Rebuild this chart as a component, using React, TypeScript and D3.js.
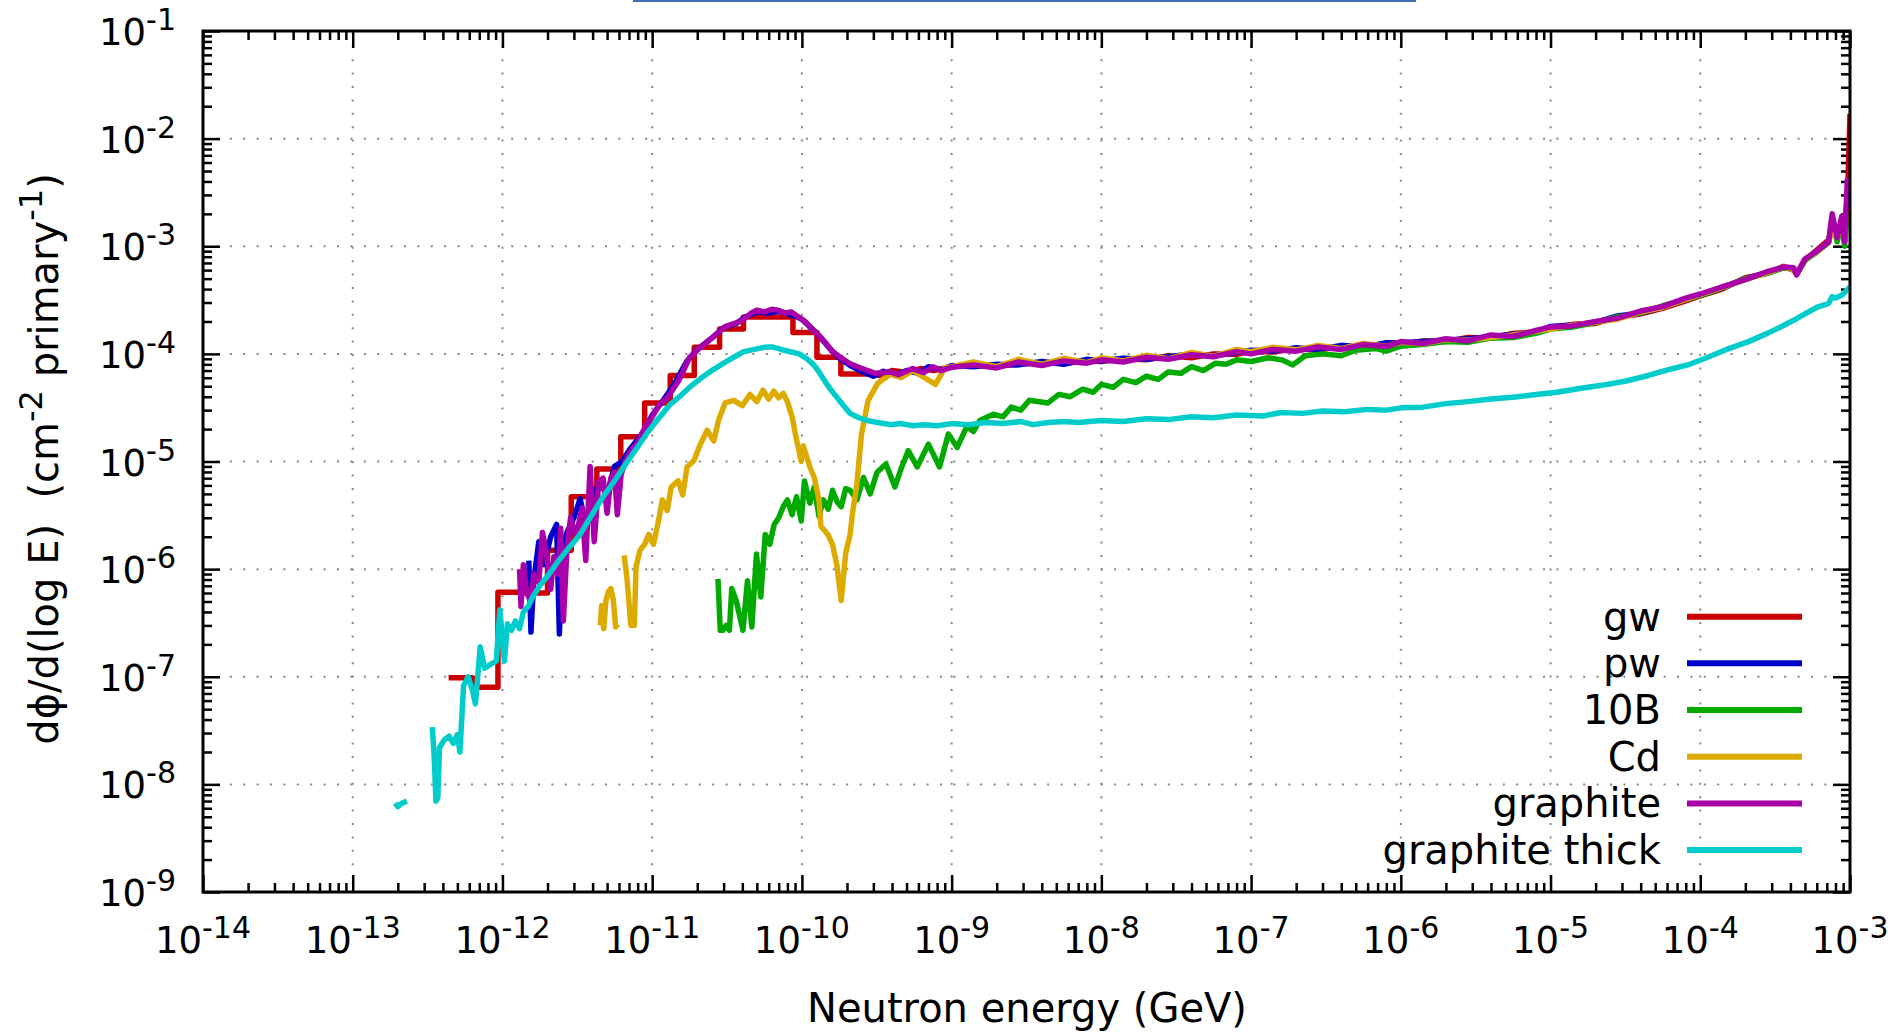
import { useRef, useEffect } from "react";
import * as d3 from "d3";

type Pt = [number, number | null];

// axis decades (GeV on x, flux on y)
const xExponents = [-14, -13, -12, -11, -10, -9, -8, -7, -6, -5, -4, -3];
const yExponents = [-9, -8, -7, -6, -5, -4, -3, -2, -1];

const seriesNames = ["gw", "pw", "10B", "Cd", "graphite", "graphite thick"];
const seriesColors = ["#cc0000", "#0000cc", "#00aa00", "#ddaa00", "#aa00aa", "#00cccc"];

// common binning of the high energy part
const tailEnergy = [
  1.4e-9, 2e-9, 2.8e-9, 4e-9, 5.6e-9, 8e-9,
  1e-8, 1.4e-8, 2e-8, 2.8e-8, 4e-8, 5.6e-8, 8e-8,
  1e-7, 1.4e-7, 2e-7, 2.8e-7, 4e-7, 5.6e-7, 8e-7,
  1e-6, 1.4e-6, 2e-6, 2.8e-6, 4e-6, 5.6e-6, 8e-6,
  1e-5, 1.4e-5, 2e-5, 2.8e-5, 4e-5, 5.6e-5, 8e-5,
  1e-4, 1.4e-4, 2e-4, 2.8e-4, 3.6e-4, 4.2e-4, 4.4e-4, 5e-4, 6e-4, 7.2e-4, 7.6e-4, 8.2e-4, 8.8e-4, 9.2e-4, 9.6e-4, 1e-3,
];

// gw (coarse histogram bins at low energy)
const gwLow: Pt[] = [
  [4.37e-13, 9.8e-8], [6.31e-13, 8.0e-8], [9.33e-13, 6.1e-7], [1.35e-12, 6.0e-7], [2.0e-12, 1.5e-6],
  [2.88e-12, 4.7e-6], [4.27e-12, 8.5e-6], [6.17e-12, 1.7e-5], [8.91e-12, 3.5e-5], [1.32e-11, 6.3e-5],
  [1.91e-11, 1.15e-4], [2.82e-11, 1.7e-4], [4.07e-11, 2.2e-4], [5.89e-11, 2.2e-4], [8.71e-11, 1.58e-4],
  [1.26e-10, 9.3e-5], [1.82e-10, 6.5e-5], [2.69e-10, 6.6e-5], [3.3e-10, 6.3e-5], [4.0e-10, 7.0e-5],
  [5.0e-10, 6.7e-5], [6.2e-10, 7.3e-5], [7.6e-10, 7.0e-5], [1.0e-9, 7.6e-5],
];
const gwTail = [
  8.1e-5, 7.7e-5, 8.0e-5, 8.3e-5, 8.2e-5, 8.6e-5,
  8.5e-5, 9.0e-5, 8.8e-5, 9.6e-5, 9.2e-5, 1.0e-4, 9.9e-5,
  1.06e-4, 1.04e-4, 1.12e-4, 1.08e-4, 1.18e-4, 1.14e-4, 1.24e-4,
  1.22e-4, 1.32e-4, 1.3e-4, 1.42e-4, 1.4e-4, 1.55e-4, 1.6e-4,
  1.72e-4, 1.88e-4, 1.92e-4, 2.2e-4, 2.35e-4, 2.65e-4, 3.1e-4,
  3.45e-4, 4.0e-4, 5.1e-4, 5.6e-4, 6.5e-4, 6.0e-4, 5.5e-4, 7.4e-4, 9.2e-4, 1.15e-3, 1.5e-3, 1.3e-3, 1.6e-3, 1.4e-3, 2.5e-3, 1.7e-2,
];
const gwStepEnd = 2.69e-10;

// pw
const pwLow: Pt[] = [
  [1.5e-12, 1.2e-6], [1.55e-12, 2.6e-7], [1.62e-12, 8e-7], [1.75e-12, 1.8e-6], [1.9e-12, 1.1e-6],
  [2.1e-12, 2.0e-6], [2.3e-12, 2.6e-6], [2.4e-12, 2.5e-7], [2.5e-12, 1.5e-6], [2.7e-12, 2.2e-6],
  [3.0e-12, 3.0e-6], [3.3e-12, 4.5e-6], [3.6e-12, 2.6e-6], [4.0e-12, 5.2e-6], [4.5e-12, 6.0e-6],
  [5.0e-12, 5.0e-6], [5.6e-12, 9.0e-6], [6.3e-12, 1.0e-5], [7.1e-12, 1.3e-5], [8.0e-12, 1.6e-5],
  [9.0e-12, 2.0e-5], [1.0e-11, 2.7e-5], [1.2e-11, 3.8e-5], [1.4e-11, 5.2e-5], [1.7e-11, 8.5e-5],
  [2.0e-11, 1.1e-4], [2.5e-11, 1.4e-4], [3.0e-11, 1.75e-4], [3.6e-11, 1.9e-4], [4.2e-11, 2.2e-4],
  [5.0e-11, 2.45e-4], [6.0e-11, 2.4e-4], [7.0e-11, 2.5e-4], [8.0e-11, 2.35e-4], [9.0e-11, 2.25e-4],
  [1.0e-10, 2.1e-4], [1.12e-10, 1.8e-4], [1.26e-10, 1.55e-4], [1.4e-10, 1.3e-4], [1.6e-10, 1.05e-4],
  [1.8e-10, 9.0e-5], [2.1e-10, 7.8e-5], [2.5e-10, 6.9e-5], [3.0e-10, 6.2e-5], [3.5e-10, 6.9e-5],
  [4.2e-10, 6.3e-5], [5.0e-10, 7.0e-5], [6.0e-10, 6.6e-5], [7.0e-10, 7.6e-5], [8.5e-10, 7.1e-5],
  [1.0e-9, 7.8e-5],
];
const pwTail = [
  7.6e-5, 8.0e-5, 7.9e-5, 8.5e-5, 8.0e-5, 8.9e-5,
  8.6e-5, 9.1e-5, 8.9e-5, 9.4e-5, 1.0e-4, 9.6e-5, 1.03e-4,
  1.08e-4, 1.06e-4, 1.14e-4, 1.1e-4, 1.2e-4, 1.15e-4, 1.27e-4,
  1.26e-4, 1.3e-4, 1.34e-4, 1.38e-4, 1.44e-4, 1.52e-4, 1.58e-4,
  1.8e-4, 1.86e-4, 1.96e-4, 2.25e-4, 2.4e-4, 2.7e-4, 3.2e-4,
  3.5e-4, 4.1e-4, 5.0e-4, 5.7e-4, 6.3e-4, 6.2e-4, 5.6e-4, 7.5e-4, 9.0e-4, 1.1e-3, 1.6e-3, 1.25e-3, 1.7e-3, 1.2e-3, 3.0e-3, 2.2e-3,
];

// 10B
const b10: Pt[] = [
  [2.75e-11, 8.1e-7], [2.85e-11, 2.7e-7], [2.96e-11, 2.7e-7], [3.12e-11, 3.0e-7], [3.28e-11, 2.7e-7],
  [3.4e-11, 6.6e-7], [3.64e-11, 5.1e-7], [4.04e-11, 2.7e-7], [4.33e-11, 7.8e-7], [4.63e-11, 2.9e-7],
  [4.97e-11, 1.38e-6], [5.31e-11, 5.5e-7], [5.69e-11, 2.1e-6], [6.1e-11, 1.7e-6], [6.53e-11, 2.6e-6],
  [7.0e-11, 3.0e-6], [7.5e-11, 3.8e-6], [8.0e-11, 4.4e-6], [8.6e-11, 3.2e-6], [9.2e-11, 4.7e-6],
  [9.9e-11, 2.8e-6], [1.04e-10, 6.6e-6], [1.13e-10, 4.1e-6], [1.21e-10, 5.8e-6], [1.3e-10, 3.1e-6],
  [1.39e-10, 4.4e-6], [1.5e-10, 3.6e-6], [1.6e-10, 5.4e-6], [1.72e-10, 4.2e-6], [1.83e-10, 3.8e-6],
  [1.96e-10, 5.6e-6], [2.1e-10, 5.4e-6], [2.33e-10, 4.4e-6], [2.58e-10, 7.1e-6], [2.86e-10, 5.0e-6],
  [3.17e-10, 7.9e-6], [3.64e-10, 9.5e-6], [4.18e-10, 5.8e-6], [4.6e-10, 8.6e-6], [5.13e-10, 1.26e-5],
  [5.89e-10, 8.9e-6], [7.0e-10, 1.45e-5], [8.3e-10, 8.9e-6], [9.5e-10, 1.8e-5], [1.09e-9, 1.35e-5],
  [1.26e-9, 2.1e-5], [1.4e-9, 1.9e-5], [1.54e-9, 2.4e-5], [1.9e-9, 2.75e-5], [2.2e-9, 2.6e-5],
  [2.5e-9, 3.2e-5], [2.9e-9, 3.0e-5], [3.3e-9, 3.7e-5], [4.4e-9, 3.5e-5], [5.2e-9, 4.2e-5],
  [6.2e-9, 4.0e-5], [7.5e-9, 4.7e-5], [8.8e-9, 4.4e-5], [1.0e-8, 5.2e-5], [1.2e-8, 4.9e-5],
  [1.4e-8, 5.8e-5], [1.7e-8, 5.4e-5], [2.0e-8, 6.2e-5], [2.4e-8, 5.8e-5], [2.8e-8, 6.8e-5],
  [3.4e-8, 6.6e-5], [4.0e-8, 7.6e-5], [4.8e-8, 7.0e-5], [5.8e-8, 8.2e-5], [6.8e-8, 8.0e-5],
  [8.0e-8, 8.8e-5], [1.0e-7, 8.5e-5], [1.3e-7, 9.2e-5], [1.6e-7, 8.8e-5], [1.9e-7, 7.9e-5],
  [2.3e-7, 9.6e-5], [3.0e-7, 1.0e-4], [4.0e-7, 9.6e-5], [5.0e-7, 1.08e-4], [6.8e-7, 1.12e-4],
  [8.0e-7, 1.06e-4], [1e-6, 1.18e-4], [1.4e-6, 1.22e-4], [2e-6, 1.3e-4], [2.8e-6, 1.28e-4],
  [4e-6, 1.4e-4], [5.6e-6, 1.42e-4], [8e-6, 1.55e-4], [1e-5, 1.7e-4], [1.4e-5, 1.78e-4],
  [2e-5, 1.95e-4], [2.8e-5, 2.2e-4], [4e-5, 2.4e-4], [5.6e-5, 2.8e-4], [8e-5, 3.2e-4],
  [1e-4, 3.5e-4], [1.4e-4, 4.1e-4], [2e-4, 5.0e-4], [2.8e-4, 5.6e-4], [3.6e-4, 6.3e-4],
  [4.2e-4, 6.1e-4], [4.4e-4, 5.5e-4], [5e-4, 7.4e-4], [6e-4, 8.8e-4], [7.2e-4, 1.08e-3],
  [7.6e-4, 1.8e-3], [8.2e-4, 1.1e-3], [8.8e-4, 1.7e-3], [9.2e-4, 1.0e-3], [9.6e-4, 2.2e-3], [1e-3, 1.8e-3],
];

// Cd (null = no entries)
const cdLow: Pt[] = [
  [4.5e-12, 3.0e-7], [4.6e-12, 4.6e-7], [4.75e-12, 2.8e-7], [4.9e-12, 5.0e-7], [5.1e-12, 6.2e-7],
  [5.3e-12, 6.6e-7], [5.5e-12, 5.2e-7], [5.7e-12, 2.9e-7], [5.9e-12, 3.1e-7], [6.2e-12, null],
  [6.5e-12, 1.34e-6], [6.8e-12, 8.0e-7], [7.2e-12, 3.0e-7], [7.6e-12, 3.0e-7], [7.8e-12, 1.05e-6],
  [8.3e-12, 1.5e-6], [8.9e-12, 1.7e-6], [9.5e-12, 2.1e-6], [1.02e-11, 1.7e-6], [1.09e-11, 2.6e-6],
  [1.17e-11, 4.4e-6], [1.26e-11, 3.5e-6], [1.34e-11, 5.8e-6], [1.49e-11, 6.6e-6], [1.6e-11, 4.9e-6],
  [1.71e-11, 8.9e-6], [1.9e-11, 1.02e-5], [2.1e-11, 1.45e-5], [2.33e-11, 1.95e-5], [2.58e-11, 1.55e-5],
  [2.77e-11, 2.4e-5], [3.07e-11, 3.5e-5], [3.5e-11, 3.7e-5], [4.0e-11, 3.3e-5], [4.5e-11, 4.2e-5],
  [5.0e-11, 3.6e-5], [5.5e-11, 4.6e-5], [6.0e-11, 3.8e-5], [6.5e-11, 4.5e-5], [7.0e-11, 3.9e-5],
  [7.5e-11, 4.3e-5], [8.0e-11, 3.6e-5], [8.6e-11, 2.6e-5], [9.2e-11, 1.6e-5], [9.9e-11, 1.0e-5],
  [1.02e-10, 1.4e-5], [1.13e-10, 8.9e-6], [1.21e-10, 7.1e-6], [1.3e-10, 4.4e-6], [1.34e-10, 2.5e-6],
  [1.49e-10, 2.1e-6], [1.6e-10, 1.7e-6], [1.71e-10, 1.1e-6], [1.83e-10, 5.1e-7], [1.96e-10, 1.4e-6],
  [2.1e-10, 2.1e-6], [2.17e-10, 3.2e-6], [2.33e-10, 6.2e-6], [2.5e-10, 1.8e-5], [2.77e-10, 3.7e-5],
  [3.2e-10, 5.3e-5], [3.9e-10, 6.5e-5], [4.6e-10, 6.0e-5], [5.5e-10, 7.0e-5], [6.6e-10, 6.0e-5],
  [7.8e-10, 5.2e-5], [9.0e-10, 7.4e-5], [1.0e-9, 7.6e-5],
];
const cdTail = [
  8.4e-5, 7.6e-5, 8.9e-5, 8.0e-5, 9.1e-5, 8.3e-5,
  9.2e-5, 8.6e-5, 9.7e-5, 9.0e-5, 1.03e-4, 9.5e-5, 1.1e-4,
  1.05e-4, 1.15e-4, 1.09e-4, 1.2e-4, 1.12e-4, 1.25e-4, 1.18e-4,
  1.28e-4, 1.24e-4, 1.36e-4, 1.34e-4, 1.42e-4, 1.5e-4, 1.62e-4,
  1.7e-4, 1.85e-4, 1.98e-4, 2.1e-4, 2.45e-4, 2.7e-4, 3.2e-4,
  3.55e-4, 4.15e-4, 4.9e-4, 5.7e-4, 6.4e-4, 6.1e-4, 5.5e-4, 7.6e-4, 8.9e-4, 1.1e-3, 1.5e-3, 1.2e-3, 1.6e-3, 1.2e-3, 2.6e-3, 2.0e-3,
];

// graphite
const graphiteLow: Pt[] = [
  [1.30e-12, 1.0e-6], [1.33e-12, 4.5e-7], [1.38e-12, 1.1e-6], [1.45e-12, 6.0e-7], [1.55e-12, 5.0e-7],
  [1.62e-12, 9.0e-7], [1.75e-12, 7.5e-7], [1.85e-12, 2.2e-6], [1.95e-12, 1.5e-6], [2.1e-12, 6.5e-7],
  [2.2e-12, 1.3e-6], [2.35e-12, 9e-7], [2.45e-12, 2.4e-6], [2.55e-12, 3.3e-7], [2.7e-12, 1.6e-6],
  [2.85e-12, 3.0e-6], [3.1e-12, 2.0e-6], [3.4e-12, 3.7e-6], [3.6e-12, 1.2e-6], [3.85e-12, 9.0e-6],
  [4.1e-12, 1.8e-6], [4.4e-12, 6.5e-6], [4.7e-12, 7.0e-6], [5.0e-12, 3.3e-6], [5.3e-12, 7.0e-6],
  [5.6e-12, 8.0e-6], [5.85e-12, 3.2e-6], [6.2e-12, 7.5e-6], [6.6e-12, 1.0e-5], [7.2e-12, 1.25e-5],
  [8.0e-12, 1.5e-5], [9.0e-12, 2.1e-5], [1.0e-11, 2.6e-5], [1.12e-11, 3.4e-5], [1.26e-11, 3.9e-5],
  [1.5e-11, 5.6e-5], [1.78e-11, 9.3e-5], [2.1e-11, 1.15e-4], [2.5e-11, 1.4e-4], [3.1e-11, 1.8e-4],
  [3.7e-11, 1.95e-4], [4.1e-11, 2.1e-4], [4.6e-11, 2.4e-4], [5.0e-11, 2.55e-4], [5.6e-11, 2.45e-4],
  [6.3e-11, 2.6e-4], [6.9e-11, 2.55e-4], [7.7e-11, 2.4e-4], [8.5e-11, 2.45e-4], [9.5e-11, 2.2e-4],
  [1.05e-10, 2.0e-4], [1.15e-10, 1.75e-4], [1.29e-10, 1.5e-4], [1.45e-10, 1.25e-4], [1.58e-10, 1.07e-4],
  [1.8e-10, 9.3e-5], [2.1e-10, 8.1e-5], [2.4e-10, 7.5e-5], [2.75e-10, 7.0e-5], [3.1e-10, 6.6e-5],
  [3.9e-10, 6.8e-5], [4.4e-10, 6.4e-5], [5.5e-10, 7.3e-5], [6.5e-10, 6.7e-5], [7.5e-10, 7.6e-5],
  [8.5e-10, 7.0e-5], [1.0e-9, 7.5e-5],
];
const graphiteTail = [
  7.9e-5, 7.4e-5, 8.4e-5, 7.8e-5, 8.6e-5, 8.2e-5,
  8.8e-5, 8.4e-5, 9.3e-5, 8.9e-5, 9.8e-5, 9.4e-5, 1.05e-4,
  1.0e-4, 1.1e-4, 1.06e-4, 1.16e-4, 1.1e-4, 1.22e-4, 1.17e-4,
  1.3e-4, 1.25e-4, 1.38e-4, 1.32e-4, 1.5e-4, 1.45e-4, 1.65e-4,
  1.78e-4, 1.82e-4, 2.0e-4, 2.15e-4, 2.5e-4, 2.75e-4, 3.3e-4,
  3.6e-4, 4.2e-4, 4.9e-4, 5.8e-4, 6.4e-4, 6.3e-4, 5.4e-4, 7.6e-4, 9.0e-4, 1.1e-3, 2.0e-3, 1.2e-3, 1.9e-3, 1.1e-3, 4.1e-3, 2.5e-3,
];

// graphite thick
const thick: Pt[] = [
  [1.92e-13, 6.7e-9], [2.0e-13, 6.2e-9], [2.1e-13, 6.6e-9], [2.3e-13, 7.0e-9], [2.35e-13, null],
  [3.4e-13, 3.4e-8], [3.5e-13, 1.8e-8], [3.6e-13, 7.0e-9], [3.7e-13, 7.5e-9], [3.8e-13, 2.2e-8],
  [4.1e-13, 2.6e-8], [4.4e-13, 2.8e-8], [4.7e-13, 2.4e-8], [5.0e-13, 2.9e-8], [5.2e-13, 2.0e-8],
  [5.5e-13, 8.3e-8], [5.9e-13, 1.0e-7], [6.3e-13, 7.5e-8], [6.6e-13, 5.6e-8], [7.1e-13, 1.9e-7],
  [7.6e-13, 1.2e-7], [8.3e-13, 1.3e-7], [9.1e-13, 1.4e-7], [9.6e-13, 4.2e-7], [1.03e-12, 1.4e-7],
  [1.08e-12, 3.1e-7], [1.15e-12, 2.7e-7], [1.22e-12, 3.3e-7], [1.3e-12, 2.8e-7], [1.38e-12, 4.0e-7],
  [1.5e-12, 4.6e-7], [1.6e-12, 5.6e-7], [1.8e-12, 7.2e-7], [2.0e-12, 8.6e-7], [2.34e-12, 1.17e-6],
  [2.8e-12, 1.6e-6], [3.3e-12, 2.1e-6], [3.9e-12, 3.1e-6], [4.7e-12, 4.7e-6], [5.6e-12, 6.6e-6],
  [6.6e-12, 9.3e-6], [7.8e-12, 1.3e-5], [9.3e-12, 1.86e-5], [1.1e-11, 2.5e-5], [1.32e-11, 3.4e-5],
  [1.55e-11, 4.1e-5], [1.78e-11, 4.9e-5], [2.1e-11, 5.9e-5], [2.5e-11, 7.0e-5], [3.0e-11, 8.2e-5],
  [3.5e-11, 9.3e-5], [4.1e-11, 1.05e-4], [4.8e-11, 1.1e-4], [5.6e-11, 1.15e-4], [6.3e-11, 1.16e-4],
  [7.0e-11, 1.12e-4], [7.6e-11, 1.08e-4], [8.5e-11, 1.04e-4], [9.6e-11, 1.0e-4], [1.08e-10, 9.0e-5],
  [1.2e-10, 7.9e-5], [1.3e-10, 6.8e-5], [1.42e-10, 5.6e-5], [1.55e-10, 4.7e-5], [1.7e-10, 4.0e-5],
  [1.9e-10, 3.3e-5], [2.1e-10, 2.8e-5], [2.4e-10, 2.55e-5], [2.75e-10, 2.4e-5], [3.2e-10, 2.3e-5],
  [3.9e-10, 2.2e-5], [4.6e-10, 2.25e-5], [5.5e-10, 2.15e-5], [6.6e-10, 2.2e-5], [8e-10, 2.15e-5],
  [1e-9, 2.25e-5], [1.3e-9, 2.2e-5], [1.7e-9, 2.3e-5], [2.2e-9, 2.25e-5], [2.9e-9, 2.35e-5],
  [3.5e-9, 2.2e-5], [4.4e-9, 2.3e-5], [5.6e-9, 2.35e-5], [7e-9, 2.3e-5], [1e-8, 2.4e-5],
  [1.4e-8, 2.35e-5], [2e-8, 2.5e-5], [2.8e-8, 2.45e-5], [4e-8, 2.6e-5], [5.6e-8, 2.55e-5],
  [8e-8, 2.7e-5], [1.2e-7, 2.65e-5], [1.6e-7, 2.85e-5], [2.2e-7, 2.8e-5], [3e-7, 2.95e-5],
  [4.2e-7, 2.9e-5], [6e-7, 3.05e-5], [8e-7, 3.0e-5], [1e-6, 3.15e-5], [1.4e-6, 3.2e-5],
  [2e-6, 3.45e-5], [2.8e-6, 3.6e-5], [4e-6, 3.8e-5], [5.6e-6, 3.95e-5], [8e-6, 4.2e-5],
  [1.1e-5, 4.4e-5], [1.6e-5, 4.8e-5], [2.2e-5, 5.1e-5], [3.2e-5, 5.6e-5], [4.5e-5, 6.3e-5],
  [6.3e-5, 7.2e-5], [8.5e-5, 8.0e-5], [1.1e-4, 9.2e-5], [1.5e-4, 1.1e-4], [2.1e-4, 1.3e-4],
  [2.8e-4, 1.55e-4], [3.5e-4, 1.8e-4], [4.2e-4, 2.05e-4], [5e-4, 2.35e-4], [6e-4, 2.7e-4],
  [7.2e-4, 2.95e-4], [7.6e-4, 3.4e-4], [8e-4, 3.3e-4], [8.8e-4, 3.5e-4], [1e-3, 4.2e-4],
];

const withTail = (low: Pt[], tail: number[]): Pt[] =>
  low.concat(tailEnergy.map((e, i) => [e, tail[i]] as Pt));

const W = 1903;
const H = 1032;
const M = { left: 203, right: 1850, top: 31, bottom: 892 };
const FONT = "'DejaVu Sans', sans-serif";
const LINE_W = 5.5;

const App = () => {
  const svgRef = useRef<SVGSVGElement>(null);

  useEffect(() => {
    const svg = d3.select(svgRef.current);
    svg.selectAll("*").remove();

    const x = d3.scaleLog().domain([1e-14, 1e-3]).range([M.left, M.right]);
    const y = d3.scaleLog().domain([1e-9, 1e-1]).range([M.bottom, M.top]);

    const xMajor = xExponents.map((k) => Math.pow(10, k));
    const yMajor = yExponents.map((k) => Math.pow(10, k));
    const minorOf = (majors: number[]) => {
      const out: number[] = [];
      majors.slice(0, -1).forEach((m) => {
        for (let i = 2; i <= 9; i++) out.push(m * i);
      });
      return out;
    };
    const xMinor = minorOf(xMajor);
    const yMinor = minorOf(yMajor);

    // stray strip at the top of the picture
    svg.append("rect").attr("x", 633).attr("y", 0).attr("width", 783).attr("height", 2).attr("fill", "#3f6fae");

    // grid
    const grid = svg.append("g").attr("stroke", "#888").attr("stroke-width", 2).attr("stroke-dasharray", "2,11.4");
    xMajor.slice(1, -1).forEach((v) => {
      grid.append("line").attr("x1", x(v)).attr("x2", x(v)).attr("y1", M.bottom).attr("y2", M.top);
    });
    yMajor.slice(1, -1).forEach((v) => {
      grid.append("line").attr("x1", M.left).attr("x2", M.right).attr("y1", y(v)).attr("y2", y(v));
    });

    // ticks, inward on all four sides
    const tickAxis = (axis: any, tr: string) => {
      const g = svg.append("g").attr("transform", tr).call(axis);
      g.select(".domain").remove();
      g.selectAll("line").attr("stroke", "#000").attr("stroke-width", 2.5);
      g.selectAll("text").remove();
    };
    [
      [d3.axisBottom, `translate(0,${M.bottom})`],
      [d3.axisTop, `translate(0,${M.top})`],
    ].forEach(([fn, tr]: any) => {
      tickAxis(fn(x).tickValues(xMajor).tickSize(-17).tickSizeOuter(0), tr);
      tickAxis(fn(x).tickValues(xMinor).tickSize(-9).tickSizeOuter(0), tr);
    });
    [
      [d3.axisLeft, `translate(${M.left},0)`],
      [d3.axisRight, `translate(${M.right},0)`],
    ].forEach(([fn, tr]: any) => {
      tickAxis(fn(y).tickValues(yMajor).tickSize(-17).tickSizeOuter(0), tr);
      tickAxis(fn(y).tickValues(yMinor).tickSize(-9).tickSizeOuter(0), tr);
    });

    // tick labels 10^k
    const labels = svg.append("g").style("font-family", FONT).attr("fill", "#000");
    xExponents.forEach((k) => {
      const t = labels.append("text").attr("x", x(Math.pow(10, k))).attr("y", 953)
        .attr("text-anchor", "middle").style("font-size", "37px");
      t.append("tspan").text("10");
      t.append("tspan").attr("dy", -15).style("font-size", "30px").text(String(k));
    });
    yExponents.forEach((k) => {
      const t = labels.append("text").attr("x", 176).attr("y", y(Math.pow(10, k)) + 14)
        .attr("text-anchor", "end").style("font-size", "37px");
      t.append("tspan").text("10");
      t.append("tspan").attr("dy", -15).style("font-size", "30px").text(String(k));
    });

    // axis titles
    labels.append("text").attr("x", 1027).attr("y", 1022).attr("text-anchor", "middle")
      .style("font-size", "40px").text("Neutron energy (GeV)");
    const yt = labels.append("text").attr("transform", "translate(58,459) rotate(-90)")
      .attr("text-anchor", "middle").style("font-size", "40px").style("white-space", "pre");
    yt.append("tspan").text("d\u03d5/d(log E)  (cm");
    yt.append("tspan").attr("dy", -16).style("font-size", "32px").text("-2");
    yt.append("tspan").attr("dy", 16).text(" primary");
    yt.append("tspan").attr("dy", -16).style("font-size", "32px").text("-1");
    yt.append("tspan").attr("dy", 16).text(")");

    // data
    svg.append("clipPath").attr("id", "plotclip").append("rect")
      .attr("x", M.left).attr("y", M.top).attr("width", M.right - M.left).attr("height", M.bottom - M.top);

    const line = d3.line<Pt>()
      .defined((d) => d[1] != null)
      .x((d) => x(d[0]))
      .y((d) => y(d[1] as number));
    const stepLine = d3.line<Pt>()
      .curve(d3.curveStepAfter)
      .x((d) => x(d[0]))
      .y((d) => y(d[1] as number));

    const gwAll = withTail(gwLow, gwTail);
    const paths: [string | null, string][] = [
      [stepLine(gwAll.filter((d) => d[0] <= gwStepEnd)), seriesColors[0]],
      [line(gwAll.filter((d) => d[0] >= gwStepEnd)), seriesColors[0]],
      [line(withTail(pwLow, pwTail)), seriesColors[1]],
      [line(b10), seriesColors[2]],
      [line(withTail(cdLow, cdTail)), seriesColors[3]],
      [line(withTail(graphiteLow, graphiteTail)), seriesColors[4]],
      [line(thick), seriesColors[5]],
    ];

    const plot = svg.append("g").attr("clip-path", "url(#plotclip)");
    paths.forEach(([d, color]) => {
      plot.append("path")
        .attr("d", d)
        .attr("fill", "none")
        .attr("stroke", color)
        .attr("stroke-width", LINE_W)
        .attr("stroke-linejoin", "round");
    });

    // border
    svg.append("rect").attr("x", M.left).attr("y", M.top).attr("width", M.right - M.left)
      .attr("height", M.bottom - M.top).attr("fill", "none").attr("stroke", "#000").attr("stroke-width", 3);

    // legend
    const legend = svg.append("g").style("font-family", FONT);
    seriesNames.forEach((name, i) => {
      const ly = 616.7 + i * 46.67;
      legend.append("text").attr("x", 1661).attr("y", ly + 14).attr("text-anchor", "end")
        .style("font-size", "40px").text(name);
      legend.append("line").attr("x1", 1687).attr("x2", 1802).attr("y1", ly).attr("y2", ly)
        .attr("stroke", seriesColors[i]).attr("stroke-width", 6);
    });
  }, []);

  return (
    <svg
      ref={svgRef}
      width={W}
      height={H}
      style={{ position: "absolute", left: 0, top: 0, background: "#fff", display: "block" }}
    ></svg>
  );
};

export default App;
